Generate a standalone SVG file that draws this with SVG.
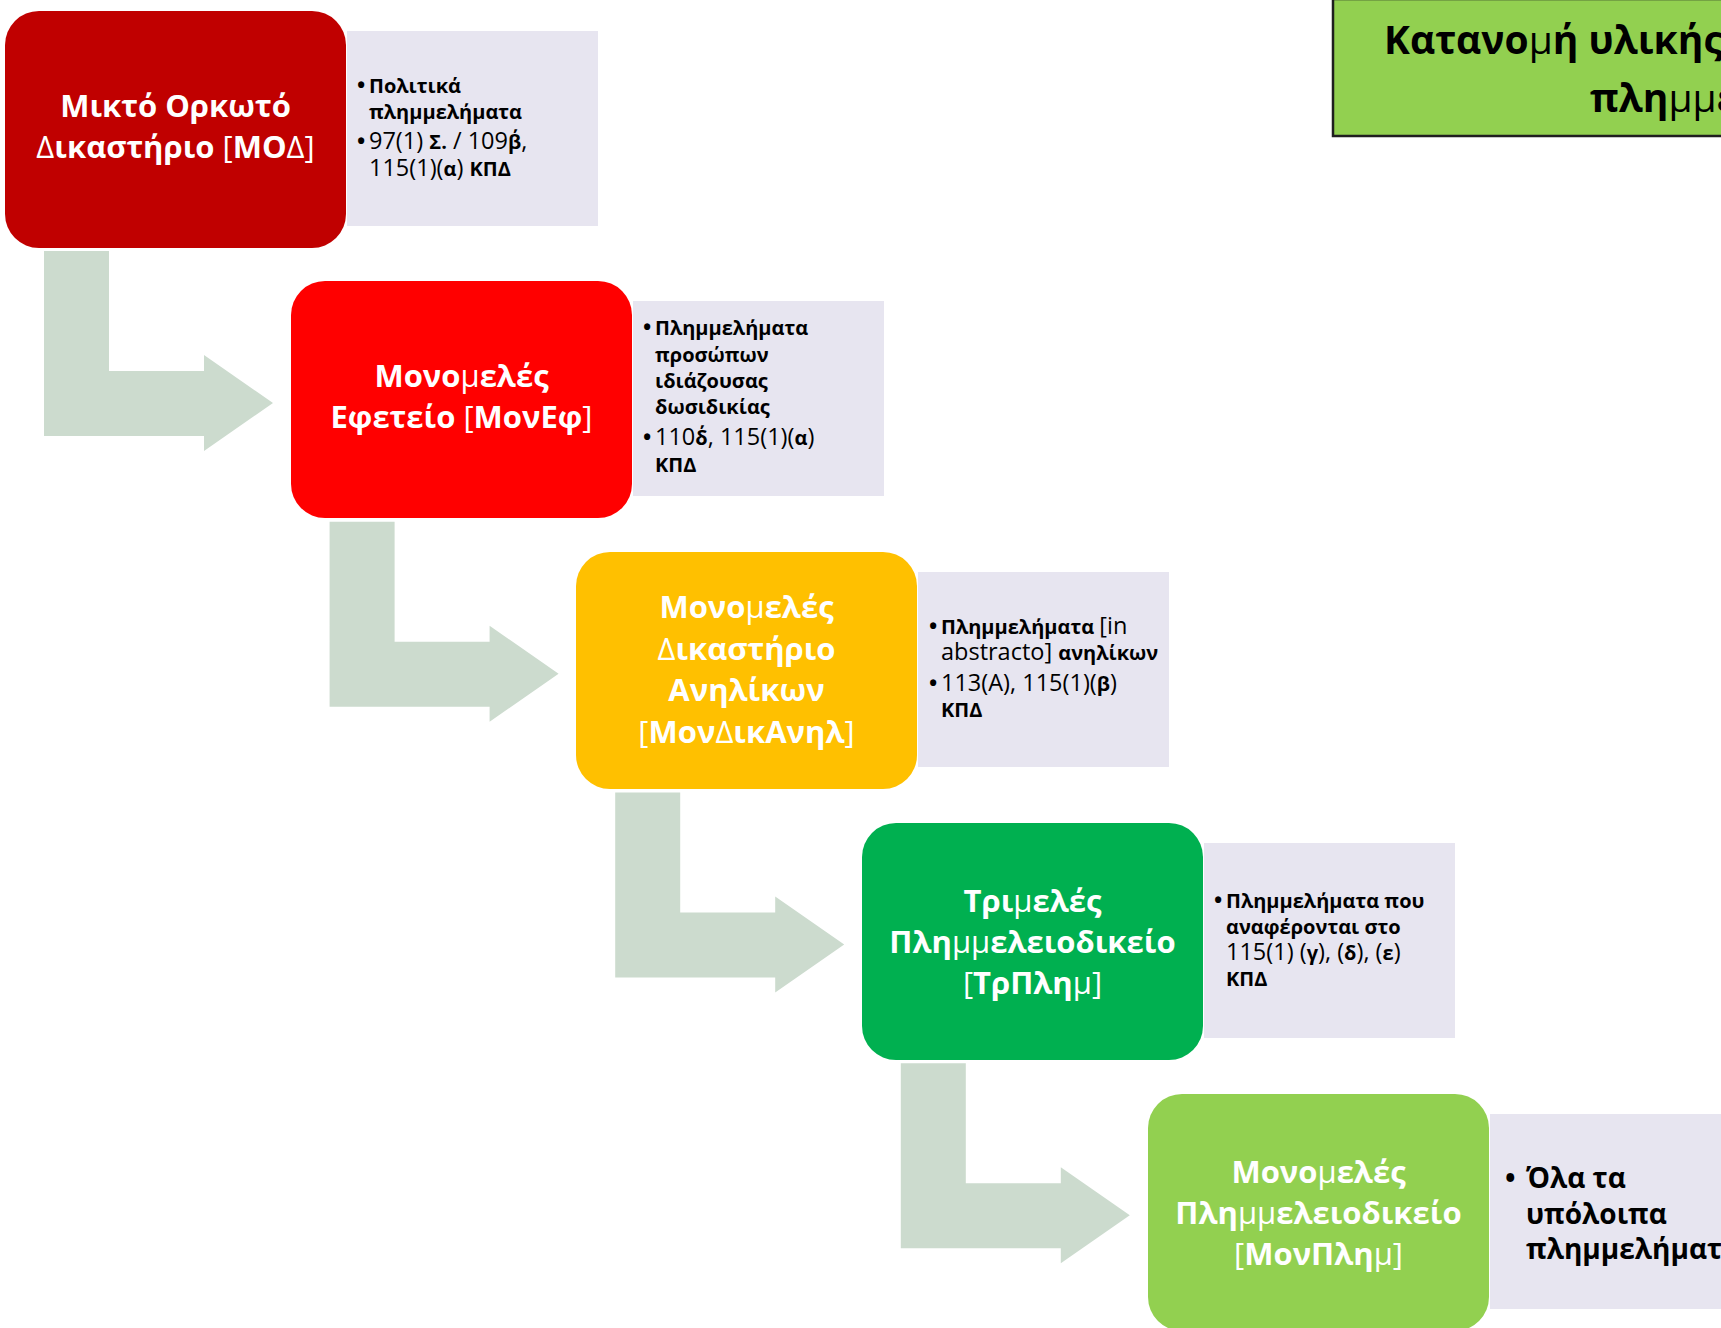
<svg xmlns="http://www.w3.org/2000/svg" width="1721" height="1328" viewBox="0 0 1721 1328">
<style>
.bg{fill:#ffffff}
.node rect.box{stroke:none}
.lav{fill:#E7E5F0}
.arrow{fill:#CCDBCE}
.nt{font-family:"Open Sans","Noto Sans","DejaVu Sans",sans-serif;font-weight:700;font-size:31px;fill:#ffffff;text-anchor:middle}
.lt{font-family:"Open Sans","Noto Sans","DejaVu Sans",sans-serif;font-weight:700;font-size:20px;fill:#000000}
.lt5{font-family:"Open Sans","Noto Sans","DejaVu Sans",sans-serif;font-weight:700;font-size:28px;fill:#000000}
.tt{font-family:"Open Sans","Noto Sans","DejaVu Sans",sans-serif;font-weight:700;font-size:39px;fill:#000000}
.r{font-weight:400}
.rl{font-weight:400;font-size:23.5px}
.b{font-weight:700;font-size:22px}
</style>
<rect class="bg" x="0" y="0" width="1721" height="1328"/>

<g id="connectors">
  <polygon class="arrow" points="44,251 109,251 109,371 204,371 204,355 273,403 204,451 204,436 44,436"/>
  <polygon class="arrow" transform="translate(285.6,270.75)" points="44,251 109,251 109,371 204,371 204,355 273,403 204,451 204,436 44,436"/>
  <polygon class="arrow" transform="translate(571.2,541.5)" points="44,251 109,251 109,371 204,371 204,355 273,403 204,451 204,436 44,436"/>
  <polygon class="arrow" transform="translate(856.8,812.25)" points="44,251 109,251 109,371 204,371 204,355 273,403 204,451 204,436 44,436"/>
</g>

<g id="title">
  <rect x="1333" y="-1" width="420" height="137" fill="#92D050" stroke="#1F1F1F" stroke-width="2.5"/>
  <text class="tt" x="1384" y="54">Κατανο<tspan class="r">μ</tspan>ή υλικής αρμοδιότητας</text>
  <text class="tt" x="1590" y="112">πλη<tspan class="r">μμ</tspan>ελημάτων</text>
</g>

<g id="node-mod">
  <rect class="box" x="5" y="11" width="341" height="237" rx="34" fill="#C00000"/>
  <text class="nt" x="175.5" y="117">Μικτό Ορκωτό</text>
  <text class="nt" x="175.5" y="158"><tspan class="r">Δ</tspan>ικαστήριο <tspan class="r">[</tspan>ΜΟ<tspan class="r">Δ]</tspan></text>
</g>
<g id="info-mod">
  <rect class="lav" x="347" y="31" width="251" height="195"/>
  <text class="lt" y="93"><tspan class="b" x="357">•</tspan><tspan x="369">Πολιτικά</tspan></text>
  <text class="lt" x="369" y="119">πλημμελήματα</text>
  <text class="lt" y="149"><tspan class="b" x="357">•</tspan><tspan x="369" class="rl">97(1) </tspan>Σ.<tspan class="rl"> / 109</tspan>β΄<tspan class="rl">,</tspan></text>
  <text class="lt" x="369" y="176"><tspan class="rl">115(1)(</tspan>α<tspan class="rl">) </tspan>ΚΠΔ</text>
</g>

<g id="node-monef">
  <rect class="box" x="291" y="281" width="341" height="237" rx="34" fill="#FF0000"/>
  <text class="nt" x="461.5" y="387">Μονο<tspan class="r">μ</tspan>ελές</text>
  <text class="nt" x="461.5" y="428">Εφετείο <tspan class="r">[</tspan>ΜονΕφ<tspan class="r">]</tspan></text>
</g>
<g id="info-monef">
  <rect class="lav" x="633" y="301" width="251" height="195"/>
  <text class="lt" y="335"><tspan class="b" x="643">•</tspan><tspan x="655">Πλημμελήματα</tspan></text>
  <text class="lt" x="655" y="362">προσώπων</text>
  <text class="lt" x="655" y="388">ιδιάζουσας</text>
  <text class="lt" x="655" y="414">δωσιδικίας</text>
  <text class="lt" y="445"><tspan class="b" x="643">•</tspan><tspan x="655" class="rl">110</tspan>δ΄<tspan class="rl">, 115(1)(</tspan>α<tspan class="rl">)</tspan></text>
  <text class="lt" x="655" y="472">ΚΠΔ</text>
</g>

<g id="node-mondikanil">
  <rect class="box" x="576" y="552" width="341" height="237" rx="34" fill="#FFC000"/>
  <text class="nt" x="746.5" y="618">Μονο<tspan class="r">μ</tspan>ελές</text>
  <text class="nt" x="746.5" y="660"><tspan class="r">Δ</tspan>ικαστήριο</text>
  <text class="nt" x="746.5" y="701">Ανηλίκων</text>
  <text class="nt" x="746.5" y="743"><tspan class="r">[</tspan>Μον<tspan class="r">Δ</tspan>ικΑνηλ<tspan class="r">]</tspan></text>
</g>
<g id="info-mondikanil">
  <rect class="lav" x="918" y="572" width="251" height="195"/>
  <text class="lt" y="634"><tspan class="b" x="929">•</tspan><tspan x="941">Πλημμελήματα </tspan><tspan class="rl">[in</tspan></text>
  <text class="lt" x="941" y="660"><tspan class="rl">abstracto] </tspan>ανηλίκων</text>
  <text class="lt" y="691"><tspan class="b" x="929">•</tspan><tspan x="941" class="rl">113(Α), 115(1)(</tspan>β<tspan class="rl">)</tspan></text>
  <text class="lt" x="941" y="717">ΚΠΔ</text>
</g>

<g id="node-trplim">
  <rect class="box" x="862" y="823" width="341" height="237" rx="34" fill="#00B050"/>
  <text class="nt" x="1032.5" y="911.5">Τρι<tspan class="r">μ</tspan>ελές</text>
  <text class="nt" x="1032.5" y="952.5">Πλη<tspan class="r">μμ</tspan>ελειοδικείο</text>
  <text class="nt" x="1032.5" y="993.5"><tspan class="r">[</tspan>ΤρΠλη<tspan class="r">μ]</tspan></text>
</g>
<g id="info-trplim">
  <rect class="lav" x="1204" y="843" width="251" height="195"/>
  <text class="lt" y="908"><tspan class="b" x="1214">•</tspan><tspan x="1226">Πλημμελήματα που</tspan></text>
  <text class="lt" x="1226" y="934">αναφέρονται στο</text>
  <text class="lt" x="1226" y="960"><tspan class="rl">115(1) (</tspan>γ<tspan class="rl">), (</tspan>δ<tspan class="rl">), (</tspan>ε<tspan class="rl">)</tspan></text>
  <text class="lt" x="1226" y="986">ΚΠΔ</text>
</g>

<g id="node-monplim">
  <rect class="box" x="1148" y="1094" width="341" height="237" rx="34" fill="#92D050"/>
  <text class="nt" x="1318.5" y="1182.5">Μονο<tspan class="r">μ</tspan>ελές</text>
  <text class="nt" x="1318.5" y="1223.5">Πλη<tspan class="r">μμ</tspan>ελειοδικείο</text>
  <text class="nt" x="1318.5" y="1264.5"><tspan class="r">[</tspan>ΜονΠλη<tspan class="r">μ]</tspan></text>
</g>
<g id="info-monplim">
  <rect class="lav" x="1490" y="1114" width="251" height="195"/>
  <text class="lt5" y="1188"><tspan x="1505">•</tspan><tspan x="1526">Όλα τα</tspan></text>
  <text class="lt5" x="1526" y="1224">υπόλοιπα</text>
  <text class="lt5" x="1526" y="1259">πλημμελήματα</text>
</g>
</svg>
